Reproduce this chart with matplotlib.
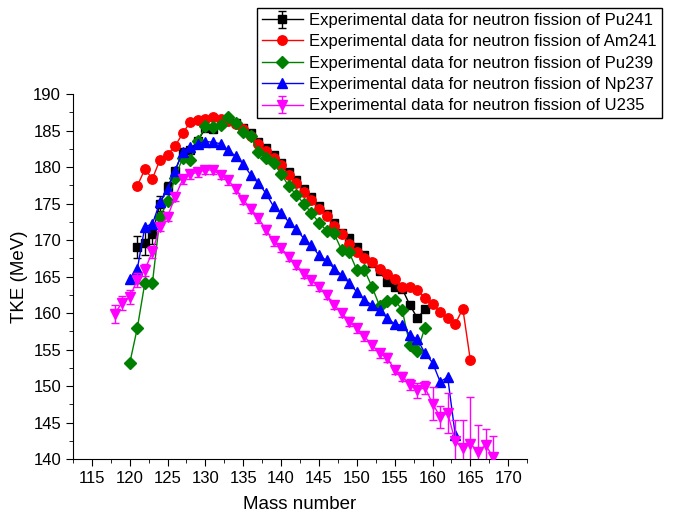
import matplotlib
matplotlib.use("Agg")
import matplotlib.pyplot as plt
from matplotlib.ticker import MultipleLocator

plt.rcParams['font.family'] = ['Liberation Sans', 'DejaVu Sans']

# mass numbers and TKE (MeV)
a_pu241 = list(range(121, 160))
tke_pu241 = [169.1, 169.6, 170.8, 175.0, 177.2, 179.5, 182.1, 182.3, 183.6, 185.3,
             185.2, 186.0, 186.4, 186.0, 185.4, 184.6, 183.5, 182.6, 181.6, 180.6,
             179.3, 178.2, 177.0, 175.9, 174.6, 173.6, 172.3, 171.0, 170.3, 169.0,
             168.0, 166.9, 165.7, 164.3, 163.5, 163.3, 161.1, 159.3, 160.5]
err_pu241 = [1.5, 1.7, 1.3, 1.0, 0.8] + [0.4] * 34

a_am241 = list(range(121, 166))
tke_am241 = [177.4, 179.7, 178.4, 181.0, 181.7, 182.9, 184.6, 186.2, 186.4, 186.6,
             186.9, 186.6, 186.3, 185.9, 185.2, 184.3, 183.2, 182.2, 181.2, 180.3,
             178.9, 177.8, 176.6, 175.5, 174.3, 173.3, 171.9, 170.8, 169.5, 168.4,
             167.5, 167.0, 166.1, 165.4, 164.7, 163.5, 163.5, 163.2, 162.0, 161.2,
             160.1, 159.3, 158.5, 160.6, 153.5]

a_pu239 = list(range(120, 160))
tke_pu239 = [153.1, 157.9, 164.1, 164.1, 173.1, 175.3, 178.5, 181.3, 181.0, 183.6,
             185.6, 185.5, 185.8, 186.9, 186.0, 184.8, 184.2, 182.1, 181.2, 180.5,
             179.1, 177.4, 176.2, 175.0, 173.7, 172.4, 171.3, 170.9, 168.6, 168.3,
             165.9, 165.9, 163.6, 161.0, 161.6, 161.8, 160.4, 155.6, 154.8, 158.0]

a_np237 = list(range(120, 164))
tke_np237 = [164.7, 166.0, 171.8, 172.2, 175.2, 177.0, 179.5, 182.1, 182.7, 183.2,
             183.5, 183.4, 183.2, 182.3, 181.5, 180.4, 178.9, 177.8, 176.4, 174.6,
             173.7, 172.5, 171.5, 170.2, 169.3, 167.9, 167.2, 166.1, 165.2, 164.1,
             162.9, 161.8, 161.1, 160.4, 159.3, 158.5, 158.3, 157.0, 156.4, 154.5,
             153.2, 150.6, 151.2, 143.3]

a_u235 = list(range(118, 169))
tke_u235 = [159.9, 161.4, 162.2, 164.5, 165.9, 168.4, 171.8, 173.2, 175.9, 178.3,
            179.0, 179.3, 179.6, 179.6, 178.9, 178.2, 177.0, 175.5, 174.3, 173.0,
            171.4, 169.8, 168.9, 167.7, 166.6, 165.4, 164.5, 163.6, 162.5, 161.1,
            160.0, 158.8, 157.9, 156.8, 155.6, 154.5, 153.9, 152.2, 151.3, 150.2,
            149.4, 149.8, 147.6, 145.8, 146.3, 142.4, 141.5, 142.1, 141.0, 141.9,
            140.3]
err_u235 = [1.2, 1.0, 1.0, 1.0, 0.8, 0.8] + [0.6] * 33 + \
           [0.8, 1.0, 0.9, 2.2, 1.5, 2.7, 3.0, 3.9, 6.4, 3.7, 2.2, 2.8]

fig = plt.figure(figsize=(6.75, 5.14), dpi=100)
ax = fig.add_axes([0.108, 0.107, 0.673, 0.710])

h1 = ax.errorbar(a_pu241, tke_pu241, yerr=err_pu241, color='black', marker='s', ms=5.8,
                 lw=1, capsize=3, elinewidth=1, zorder=2,
                 label='Experimental data for neutron fission of Pu241')
h2, = ax.plot(a_am241, tke_am241, color='red', marker='o', ms=6.8, lw=1, zorder=3,
              label='Experimental data for neutron fission of Am241')
h3, = ax.plot(a_pu239, tke_pu239, color='green', marker='D', ms=6, lw=1, zorder=4,
              label='Experimental data for neutron fission of Pu239')
h4, = ax.plot(a_np237, tke_np237, color='blue', marker='^', ms=7.5, lw=1, zorder=5,
              label='Experimental data for neutron fission of Np237')
h5 = ax.errorbar(a_u235, tke_u235, yerr=err_u235, color='magenta', marker='v', ms=7.5,
                 lw=1, capsize=3, elinewidth=1, zorder=6,
                 label='Experimental data for neutron fission of U235')

ax.set_xlim(112.5, 172.5)
ax.set_ylim(140, 190)
ax.xaxis.set_major_locator(MultipleLocator(5))
ax.xaxis.set_minor_locator(MultipleLocator(2.5))
ax.yaxis.set_major_locator(MultipleLocator(5))
ax.yaxis.set_minor_locator(MultipleLocator(2.5))
ax.tick_params(which='major', direction='out', length=5, labelsize=12)
ax.tick_params(which='minor', direction='out', length=3)
ax.spines['top'].set_visible(False)
ax.spines['right'].set_visible(False)
ax.set_xlabel('Mass number', fontsize=13.5, labelpad=7)
ax.set_ylabel('TKE (MeV)', fontsize=13.5)

leg = fig.legend(handles=[h1, h2, h3, h4, h5], loc='upper right',
                 bbox_to_anchor=(662 / 675, 1 - 8 / 514),
                 fontsize=12, frameon=True, fancybox=False, edgecolor='black',
                 framealpha=1, handlelength=2.45, labelspacing=0.38, borderpad=0.3,
                 handletextpad=0.4, borderaxespad=0)
leg.get_frame().set_linewidth(1)

fig.savefig('out.png', dpi=100)
